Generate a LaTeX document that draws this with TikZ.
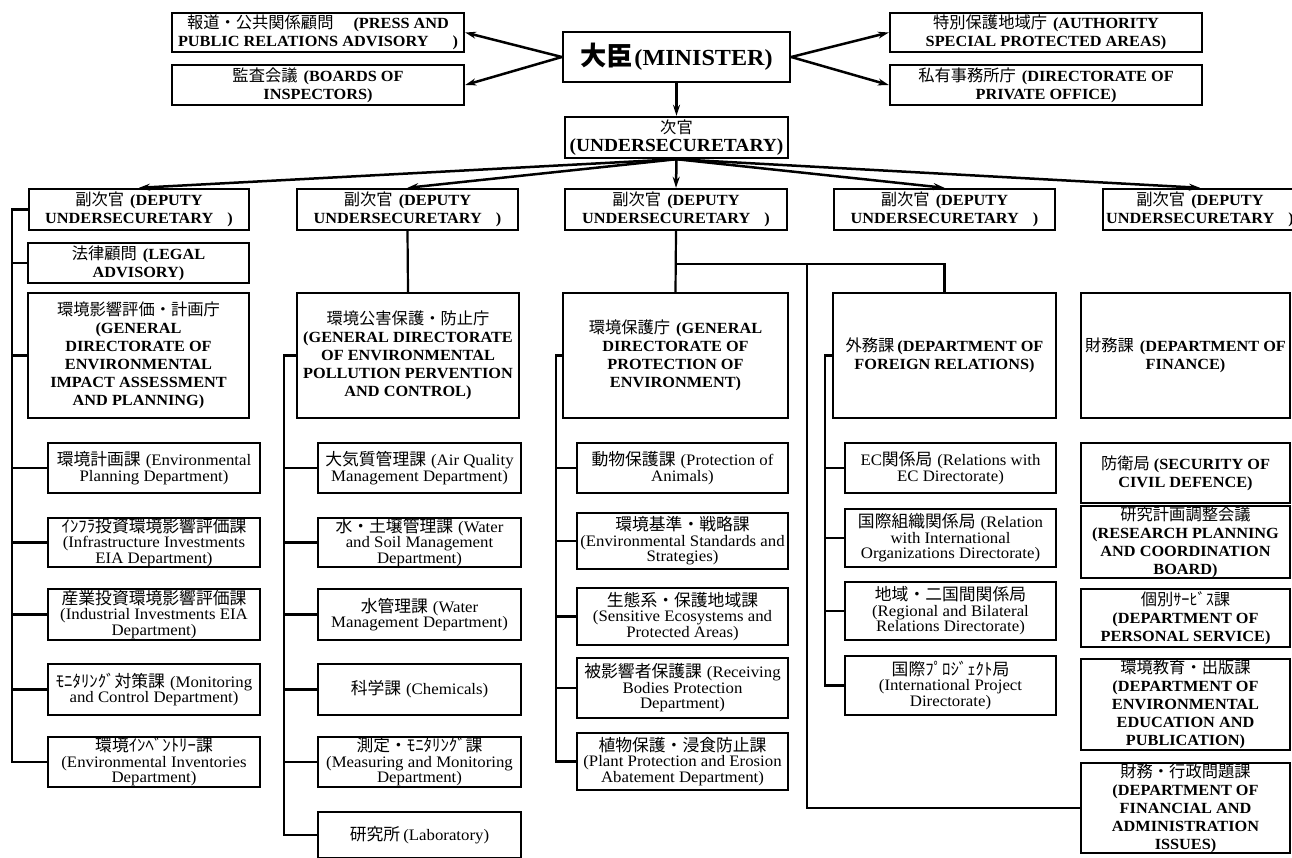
\documentclass[tikz,border=0pt]{standalone}
\usepackage{fontspec}
\setmainfont{Liberation Serif}[FakeStretch=1.05]
\newfontfamily\cjk{Noto Sans CJK JP}[Scale=1.05]
\usetikzlibrary{arrows.meta}
\newcommand\J[1]{{\cjk\mdseries #1}}
\newcommand\mkbox[7]{\node[#6, minimum width={(#4-#2)*1pt}, minimum height={(#5-#3)*1pt}] (#1) at ({(#2+#4)/2},{(#3+#5)/2}) {#7};}
\tikzset{
  bx/.style={draw, line width=2.4pt, inner sep=0pt, align=center, fill=white},
  bb/.style={bx, font=\fontsize{15.5}{18}\selectfont\bfseries},
  rb/.style={bx, font=\fontsize{16}{15.5}\selectfont},
  conn/.style={line width=2.2pt},
  arr/.style={line width=2.5pt, -{Stealth[length=11pt,width=7pt]}},
}
\begin{document}
\begin{tikzpicture}[x=1pt,y=-1pt]
\fill[white] (0,0) rectangle (1292,857);
\useasboundingbox (0,0) rectangle (1292,857);
% top row
\mkbox{press}{172}{13}{464}{52}{bb}{\J{報道・公共関係顧問}\hspace{20pt}(PRESS AND\\PUBLIC RELATIONS ADVISORY\hspace{24pt})}
\mkbox{boards}{172}{65}{464}{105}{bb}{\J{監査会議}\hspace{6pt}(BOARDS OF\\INSPECTORS)}
\mkbox{minister}{563}{32}{790}{82}{bx}{{\cjk\bfseries\fontsize{25}{26}\selectfont 大臣}\,{\fontsize{23}{26}\selectfont\bfseries (MINISTER)}}
\mkbox{auth}{890}{13}{1202}{52}{bb}{\J{特別保護地域庁}\hspace{6pt}(AUTHORITY\\SPECIAL PROTECTED AREAS)}
\mkbox{priv}{890}{65}{1202}{105}{bb}{\J{私有事務所庁}\hspace{6pt}(DIRECTORATE OF\\PRIVATE OFFICE)}
\mkbox{under}{565}{117}{788}{158}{bb}{\J{次官}\\{\fontsize{18.5}{19}\selectfont (UNDERSECURETARY)}}
% deputies
\mkbox{d1}{29}{189}{249}{230}{bb}{\J{副次官}\hspace{6pt}(DEPUTY\\UNDERSECURETARY\hspace{14pt})}
\mkbox{d2}{297}{189}{518}{230}{bb}{\J{副次官}\hspace{6pt}(DEPUTY\\UNDERSECURETARY\hspace{14pt})}
\mkbox{d3}{565}{189}{787}{230}{bb}{\J{副次官}\hspace{6pt}(DEPUTY\\UNDERSECURETARY\hspace{14pt})}
\mkbox{d4}{834}{189}{1055}{230}{bb}{\J{副次官}\hspace{6pt}(DEPUTY\\UNDERSECURETARY\hspace{14pt})}
\mkbox{d5}{1103}{189}{1297}{230}{bb}{\J{副次官}\hspace{6pt}(DEPUTY\\UNDERSECURETARY\hspace{14pt})}
% column 1
\mkbox{legal}{28}{243}{249}{283}{bb}{\J{法律顧問}\hspace{6pt}(LEGAL\\ADVISORY)}
\mkbox{eia}{28}{293}{249}{418}{bb}{\J{環境影響評価・計画庁}\\(GENERAL\\DIRECTORATE OF\\ENVIRONMENTAL\\IMPACT ASSESSMENT\\AND PLANNING)}
\mkbox{envplan}{48}{443}{260}{493}{rb}{\J{環境計画課}\hspace{5pt}(Environmental\\Planning Department)}
\mkbox{infra}{48}{518}{260}{567}{rb}{\J{ｲﾝﾌﾗ投資環境影響評価課}\\(Infrastructure Investments\\EIA Department)}
\mkbox{indus}{48}{589}{260}{640}{rb}{\J{産業投資環境影響評価課}\\(Industrial Investments EIA\\Department)}
\mkbox{monit}{48}{664}{260}{715}{rb}{\J{ﾓﾆﾀﾘﾝｸﾞ対策課}\hspace{5pt}(Monitoring\\and Control Department)}
\mkbox{invent}{48}{737}{260}{787}{rb}{\J{環境ｲﾝﾍﾞﾝﾄﾘｰ課}\\(Environmental Inventories\\Department)}
% column 2
\mkbox{poll}{297}{293}{519}{418}{bb}{\J{環境公害保護・防止庁}\\(GENERAL DIRECTORATE\\OF ENVIRONMENTAL\\POLLUTION PERVENTION\\AND CONTROL)}
\mkbox{air}{318}{443}{521}{493}{rb}{\J{大気質管理課}\hspace{5pt}(Air Quality\\Management Department)}
\mkbox{wsoil}{318}{518}{521}{567}{rb}{\J{水・土壌管理課}\hspace{5pt}(Water\\and Soil Management\\Department)}
\mkbox{water}{318}{589}{521}{640}{rb}{\J{水管理課}\hspace{5pt}(Water\\Management Department)}
\mkbox{chem}{318}{664}{521}{715}{rb}{\J{科学課}\hspace{5pt}(Chemicals)}
\mkbox{meas}{318}{737}{521}{787}{rb}{\J{測定・ﾓﾆﾀﾘﾝｸﾞ課}\\(Measuring and Monitoring\\Department)}
\mkbox{lab}{318}{812}{521}{858}{rb}{\J{研究所}\hspace{3pt}(Laboratory)}
% column 3
\mkbox{prot}{563}{293}{788}{418}{bb}{\J{環境保護庁}\hspace{6pt}(GENERAL\\DIRECTORATE OF\\PROTECTION OF\\ENVIRONMENT)}
\mkbox{animals}{577}{443}{788}{493}{rb}{\J{動物保護課}\hspace{5pt}(Protection of\\Animals)}
\mkbox{stand}{577}{513}{788}{569}{rb}{\J{環境基準・戦略課}\\(Environmental Standards and\\Strategies)}
\mkbox{eco}{577}{588}{788}{645}{rb}{\J{生態系・保護地域課}\\(Sensitive Ecosystems and\\Protected Areas)}
\mkbox{recv}{577}{658}{788}{718}{rb}{\J{被影響者保護課}\hspace{5pt}(Receiving\\Bodies Protection\\Department)}
\mkbox{plant}{577}{733}{788}{790}{rb}{\J{植物保護・浸食防止課}\\(Plant Protection and Erosion\\Abatement Department)}
% column 4
\mkbox{foreign}{833}{293}{1056}{418}{bb}{\J{外務課}\hspace{3pt}(DEPARTMENT OF\\FOREIGN RELATIONS)}
\mkbox{ec}{845}{443}{1056}{493}{rb}{EC\J{関係局}\hspace{5pt}(Relations with\\EC Directorate)}
\mkbox{intl}{845}{509}{1056}{567}{rb}{\J{国際組織関係局}\hspace{5pt}(Relation\\with International\\Organizations Directorate)}
\mkbox{regional}{845}{582}{1056}{640}{rb}{\J{地域・二国間関係局}\\(Regional and Bilateral\\Relations Directorate)}
\mkbox{proj}{845}{656}{1056}{715}{rb}{\J{国際ﾌﾟﾛｼﾞｪｸﾄ局}\\(International Project\\Directorate)}
% column 5
\mkbox{finance}{1081}{293}{1290}{418}{bb}{\J{財務課}\hspace{6pt}(DEPARTMENT OF\\FINANCE)}
\mkbox{sec}{1081}{443}{1290}{503}{bb}{\J{防衛局}\hspace{4pt}(SECURITY OF\\CIVIL DEFENCE)}
\mkbox{research}{1081}{506}{1290}{578}{bb}{\J{研究計画調整会議}\\(RESEARCH PLANNING\\AND COORDINATION\\BOARD)}
\mkbox{personal}{1081}{589}{1290}{647}{bb}{\J{個別ｻｰﾋﾞｽ課}\\(DEPARTMENT OF\\PERSONAL SERVICE)}
\mkbox{edu}{1081}{659}{1290}{750}{bb}{\J{環境教育・出版課}\\(DEPARTMENT OF\\ENVIRONMENTAL\\EDUCATION AND\\PUBLICATION)}
\mkbox{finadm}{1081}{763}{1290}{853}{bb}{\J{財務・行政問題課}\\(DEPARTMENT OF\\FINANCIAL AND\\ADMINISTRATION\\ISSUES)}
% top arrows
\draw[arr] (minister.west) -- (press.east);
\draw[arr] (minister.west) -- (boards.east);
\draw[arr] (minister.east) -- (auth.west);
\draw[arr] (minister.east) -- (priv.west);
\draw[arr] (minister.south) -- (under.north);
\foreach \d in {d1,d2,d3,d4,d5} \draw[arr] (under.south) -- (\d.north);
% column 1 connectors
\coordinate (c1) at (12,0);
\draw[conn] (d1.west) -- (c1 |- d1.west) -- (c1 |- invent.west) -- (invent.west);
\foreach \b in {legal,eia,envplan,infra,indus,monit} \draw[conn] (c1 |- \b.west) -- (\b.west);
% column 2 connectors
\coordinate (c2) at (284,0);
\draw[conn] (d2.south) -- (poll.north);
\draw[conn] (poll.west) -- (c2 |- poll.west) -- (c2 |- lab.west) -- (lab.west);
\foreach \b in {air,wsoil,water,chem,meas} \draw[conn] (c2 |- \b.west) -- (\b.west);
% column 3 / 4 connectors
\coordinate (bar) at (0,264);
\coordinate (c5) at (807,264);
\draw[conn] (d3.south) -- (prot.north);
\draw[conn] (d3.south |- bar) -- (foreign.north |- bar) -- (foreign.north);
\draw[conn] (c5) |- (finadm.west);
\coordinate (c3) at (556,0);
\draw[conn] (prot.west) -- (c3 |- prot.west) -- (c3 |- plant.west) -- (plant.west);
\foreach \b in {animals,stand,eco,recv} \draw[conn] (c3 |- \b.west) -- (\b.west);
\coordinate (c4) at (825,0);
\draw[conn] (foreign.west) -- (c4 |- foreign.west) -- (c4 |- proj.west) -- (proj.west);
\foreach \b in {ec,intl,regional} \draw[conn] (c4 |- \b.west) -- (\b.west);
\end{tikzpicture}
\end{document}
